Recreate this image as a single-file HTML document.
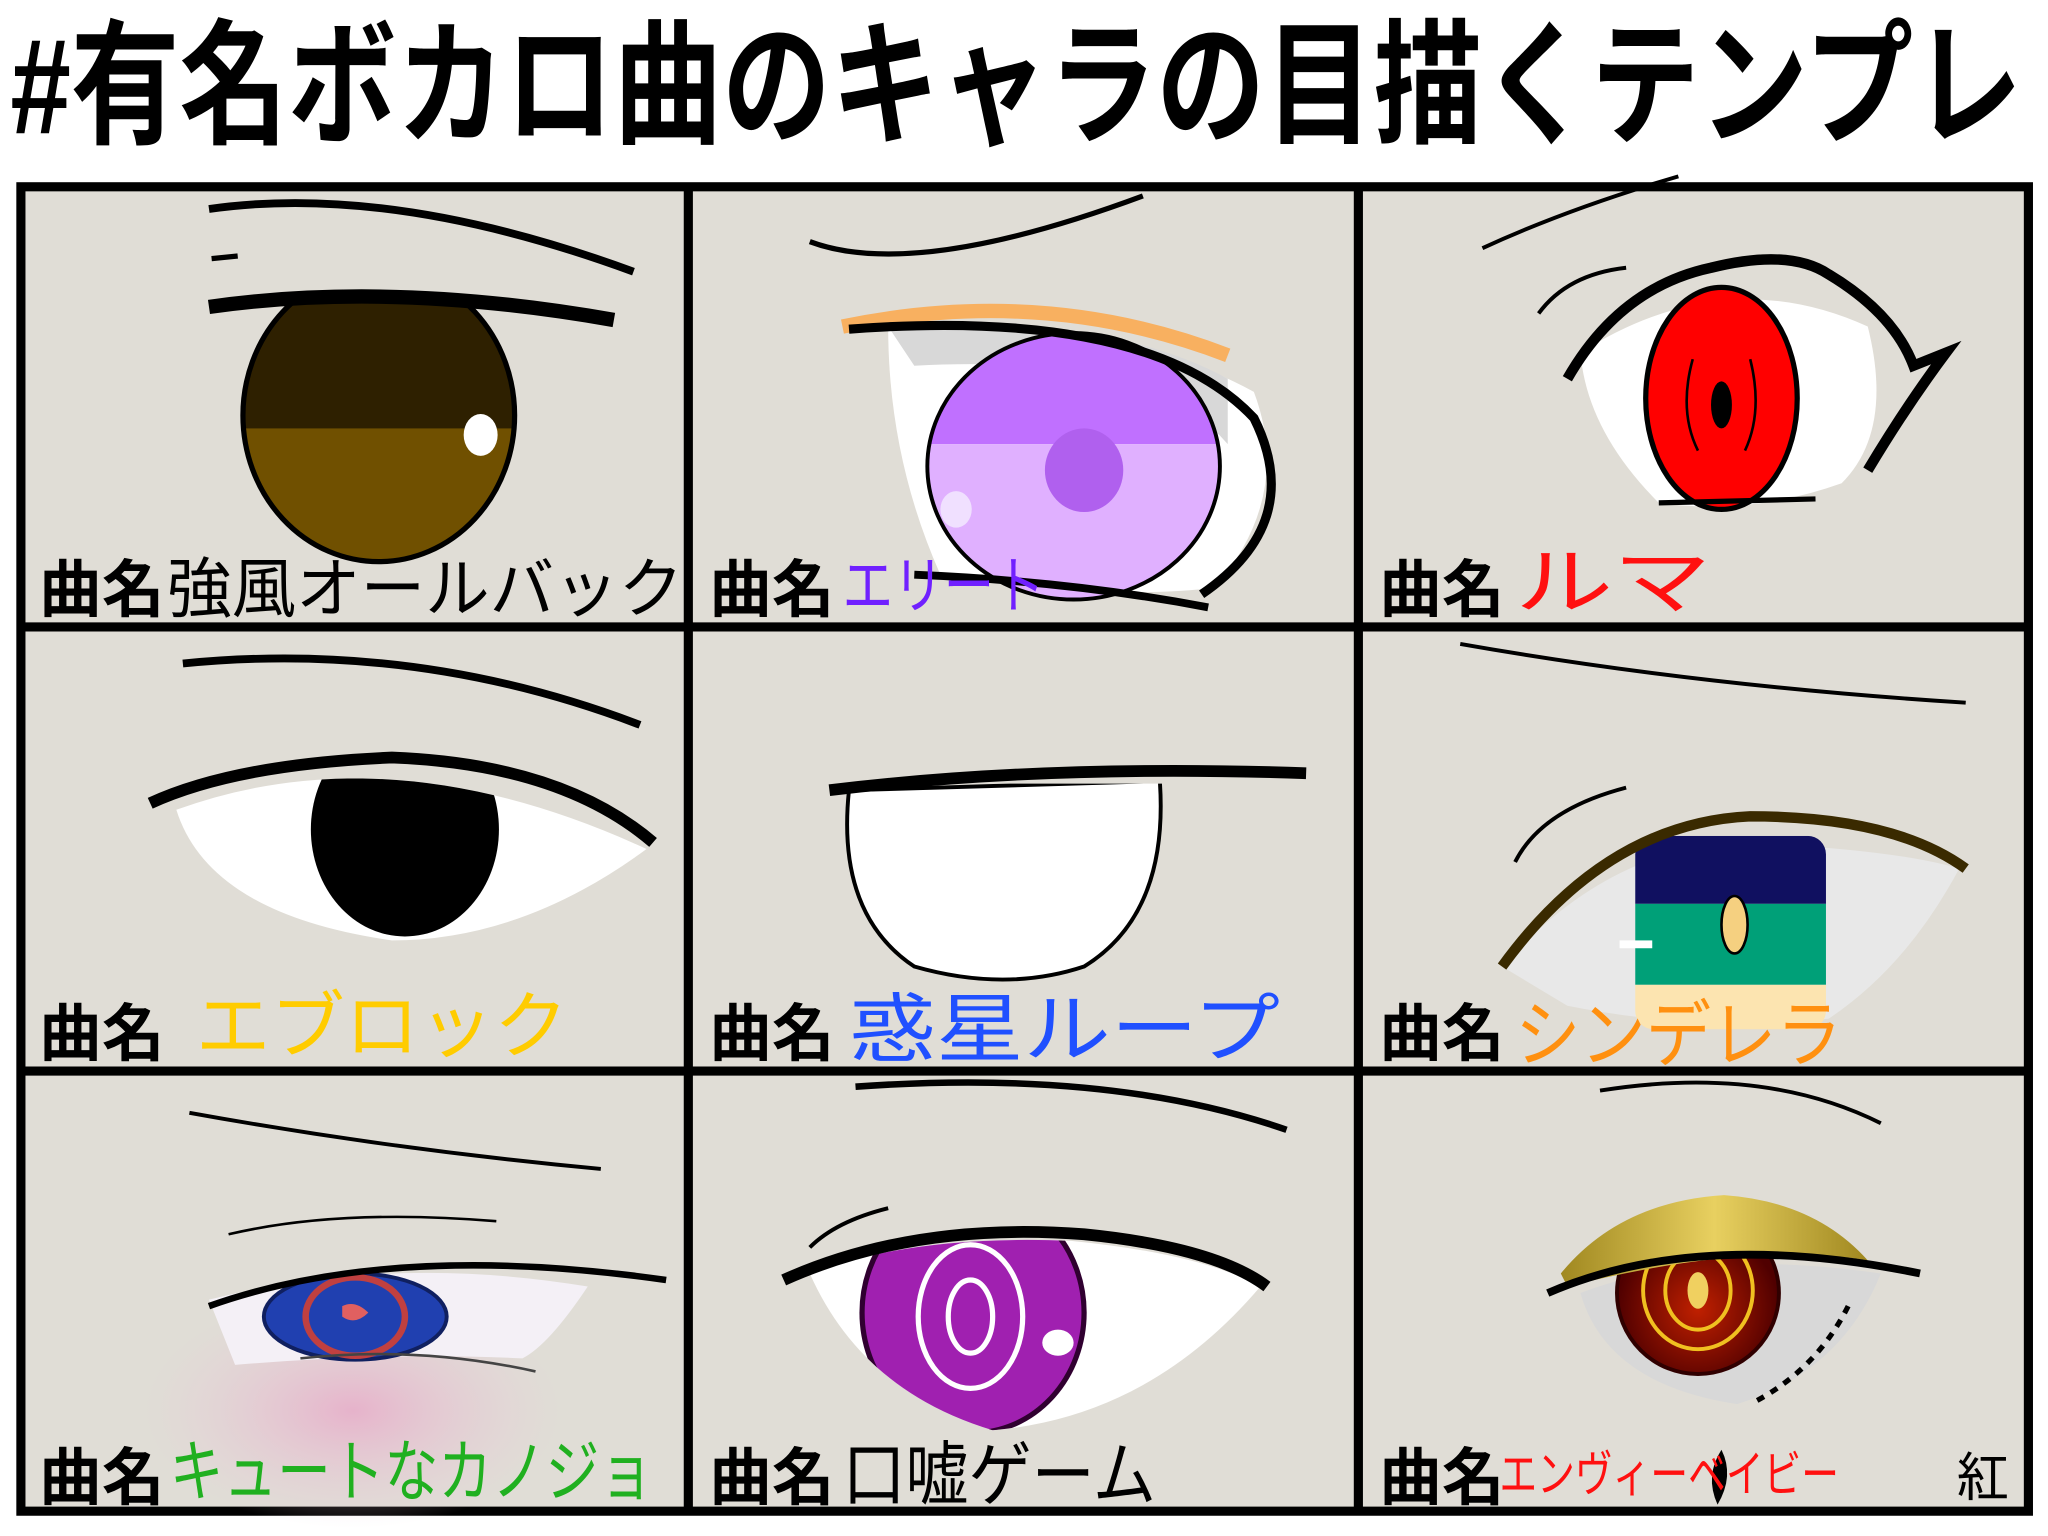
<!DOCTYPE html>
<html><head><meta charset="utf-8"><style>
html,body{margin:0;padding:0;background:#fff;width:2048px;height:1536px;overflow:hidden}
svg{display:block}
text{font-family:"Liberation Sans","Noto Sans CJK JP",sans-serif}
</style></head><body>
<svg width="2048" height="1536" viewBox="0 0 1568 1176" preserveAspectRatio="none" xmlns="http://www.w3.org/2000/svg">
<defs>
<radialGradient id="blush" cx="0.5" cy="0.5" r="0.5"><stop offset="0" stop-color="#e8a8c8" stop-opacity="0.8"/><stop offset="1" stop-color="#e8c8d8" stop-opacity="0"/></radialGradient>
<radialGradient id="redi" cx="0.5" cy="0.6" r="0.5"><stop offset="0" stop-color="#c02000"/><stop offset="1" stop-color="#500000"/></radialGradient>
<linearGradient id="gold" x1="0" y1="0" x2="1" y2="0"><stop offset="0" stop-color="#a08820"/><stop offset="0.5" stop-color="#e8d060"/><stop offset="1" stop-color="#a08820"/></linearGradient>
<clipPath id="c4"><path d="M135 620 Q300 560 495 650 Q400 720 300 720 Q160 700 135 620Z"/></clipPath>
<clipPath id="c1"><rect x="150" y="232" width="300" height="220"/></clipPath>
<clipPath id="c1e"><ellipse cx="290" cy="318" rx="104" ry="112"/></clipPath>
<clipPath id="c2"><ellipse cx="822" cy="357" rx="112" ry="102"/></clipPath>
<clipPath id="c6"><rect x="1252" y="640" width="146" height="148" rx="14"/></clipPath>
<clipPath id="c8"><path d="M620 975 Q700 945 820 950 Q920 960 965 985 Q880 1085 760 1095 Q660 1065 620 975Z"/></clipPath>
<clipPath id="c5"><rect x="600" y="600" width="400" height="200"/></clipPath>
</defs>
<rect width="1568" height="1176" fill="#fff"/>
<text x="8" y="102" font-size="104" font-weight="bold" fill="#000" textLength="1540" lengthAdjust="spacingAndGlyphs">#有名ボカロ曲のキャラの目描くテンプレ</text>
<rect x="16" y="143" width="1537" height="1014" fill="#e0ddd6" stroke="#000" stroke-width="7"/>
<line x1="527" y1="143" x2="527" y2="1157" stroke="#000" stroke-width="7"/>
<line x1="1040" y1="143" x2="1040" y2="1157" stroke="#000" stroke-width="7"/>
<line x1="16" y1="480" x2="1553" y2="480" stroke="#000" stroke-width="7"/>
<line x1="16" y1="820" x2="1553" y2="820" stroke="#000" stroke-width="7"/>

<!-- cell1 -->
<path d="M160 160 Q300 140 485 208" stroke="#000" stroke-width="6" fill="none"/>
<path d="M162 198 L182 196" stroke="#000" stroke-width="4"/>
<g clip-path="url(#c1)">
<g clip-path="url(#c1e)">
<rect x="180" y="200" width="220" height="240" fill="#705000"/>
<rect x="180" y="200" width="220" height="128" fill="#2e2000"/>
</g>
<ellipse cx="290" cy="318" rx="104" ry="112" fill="none" stroke="#000" stroke-width="4"/>
</g>
<path d="M160 235 Q300 215 470 245" stroke="#000" stroke-width="11" fill="none"/>
<ellipse cx="368" cy="333" rx="13" ry="16" fill="#fff"/>
<!-- cell2 -->
<path d="M620 185 Q700 215 875 150" stroke="#000" stroke-width="4" fill="none"/>
<path d="M680 250 Q850 240 960 300 Q990 380 930 450 Q850 460 720 440 Q680 350 680 250Z" fill="#fff"/>
<path d="M680 250 Q850 240 940 290 L940 340 Q880 270 700 280Z" fill="#d8d8d8"/>
<g clip-path="url(#c2)"><rect x="700" y="250" width="240" height="90" fill="#c070ff"/><rect x="700" y="340" width="240" height="130" fill="#e0b0ff"/></g>
<ellipse cx="822" cy="357" rx="112" ry="102" fill="none" stroke="#000" stroke-width="3"/>
<ellipse cx="830" cy="360" rx="30" ry="32" fill="#b060ee"/>
<ellipse cx="732" cy="390" rx="12" ry="14" fill="#f0e0ff"/>
<path d="M645 250 Q800 218 940 272" stroke="#f8b060" stroke-width="11" fill="none"/>
<path d="M650 252 Q880 235 960 320 Q1000 400 920 455" stroke="#000" stroke-width="7" fill="none"/>
<path d="M700 440 Q820 445 925 465" stroke="#000" stroke-width="6" fill="none"/>
<!-- cell3 -->
<path d="M1135 190 Q1200 160 1285 135" stroke="#000" stroke-width="3" fill="none"/>
<path d="M1178 240 Q1200 210 1245 205" stroke="#000" stroke-width="3" fill="none"/>
<path d="M1210 270 Q1320 200 1430 250 Q1450 330 1410 370 Q1340 395 1270 385 Q1215 330 1210 270Z" fill="#fff"/>
<ellipse cx="1318" cy="305" rx="58" ry="85" fill="#ff0000" stroke="#000" stroke-width="4"/>
<path d="M1296 275 Q1285 315 1300 345 M1340 275 Q1350 315 1336 345" stroke="#000" stroke-width="2" fill="none"/>
<ellipse cx="1318" cy="310" rx="8" ry="18" fill="#000"/>
<path d="M1200 290 Q1240 220 1310 205 Q1370 190 1400 210 Q1450 240 1465 280 L1490 270 Q1460 310 1430 360" stroke="#000" stroke-width="8" fill="none"/>
<path d="M1270 385 L1390 382" stroke="#000" stroke-width="4"/>
<!-- cell4 -->
<path d="M140 508 Q320 490 490 555" stroke="#000" stroke-width="6" fill="none"/>
<path d="M135 620 Q300 560 495 650 Q400 720 300 720 Q160 700 135 620Z" fill="#fff"/>
<g clip-path="url(#c4)"><ellipse cx="310" cy="635" rx="72" ry="82" fill="#000"/></g>
<path d="M115 615 Q180 585 300 580 Q430 585 500 645" stroke="#000" stroke-width="9" fill="none"/>
<!-- cell5 -->
<g clip-path="url(#c5)"><path d="M650 605 L888 598 Q895 700 830 740 Q770 760 700 740 Q640 700 650 605Z" fill="#fff" stroke="#000" stroke-width="3"/></g>
<path d="M635 605 Q800 585 1000 592" stroke="#000" stroke-width="9" fill="none"/>
<!-- cell6 -->
<path d="M1118 493 Q1300 525 1505 538" stroke="#000" stroke-width="3" fill="none"/>
<path d="M1160 660 Q1180 620 1245 603" stroke="#000" stroke-width="3" fill="none"/>
<path d="M1150 740 Q1230 650 1330 645 Q1450 650 1500 665 Q1460 740 1400 780 Q1300 790 1200 770 Z" fill="#e8e8e8"/>
<g clip-path="url(#c6)"><rect x="1250" y="640" width="150" height="52" fill="#101060"/><rect x="1250" y="692" width="150" height="62" fill="#00a078"/><rect x="1250" y="754" width="150" height="40" fill="#fce4b0"/></g>
<ellipse cx="1328" cy="708" rx="10" ry="22" fill="#f5d080" stroke="#000" stroke-width="2"/>
<path d="M1150 740 Q1230 630 1340 625 Q1450 625 1505 665" stroke="#3a2a00" stroke-width="8" fill="none"/>
<rect x="1240" y="720" width="25" height="6" fill="#fff"/>
<!-- cell7 -->
<path d="M145 852 Q300 880 460 895" stroke="#000" stroke-width="3" fill="none"/>
<ellipse cx="270" cy="1080" rx="160" ry="90" fill="url(#blush)"/>
<path d="M160 995 Q300 960 450 985 Q420 1030 400 1040 Q300 1035 180 1045Z" fill="#f4f0f6"/>
<ellipse cx="272" cy="1008" rx="70" ry="33" fill="#2040b0" stroke="#102060" stroke-width="3"/>
<ellipse cx="272" cy="1008" rx="38" ry="30" fill="none" stroke="#c04040" stroke-width="5"/>
<path d="M262 1000 Q272 995 282 1005 Q272 1015 262 1008Z" fill="#e06060"/>
<path d="M160 1000 Q300 950 510 980" stroke="#000" stroke-width="5" fill="none"/>
<path d="M175 945 Q260 925 380 935" stroke="#000" stroke-width="2" fill="none"/>
<path d="M230 1040 Q320 1030 410 1050" stroke="#444" stroke-width="2" fill="none"/>
<!-- cell8 -->
<path d="M655 832 Q850 818 985 865" stroke="#000" stroke-width="5" fill="none"/>
<path d="M620 975 Q700 945 820 950 Q920 960 965 985 Q880 1085 760 1095 Q660 1065 620 975Z" fill="#fff"/>
<g clip-path="url(#c8)">
<ellipse cx="745" cy="1005" rx="85" ry="92" fill="#a020b0" stroke="#300030" stroke-width="4"/>
<ellipse cx="743" cy="1008" rx="40" ry="55" fill="none" stroke="#fff" stroke-width="4"/>
<ellipse cx="743" cy="1008" rx="17" ry="28" fill="none" stroke="#fff" stroke-width="4"/>
<ellipse cx="810" cy="1028" rx="12" ry="10" fill="#fff"/>
</g>
<path d="M600 980 Q700 935 830 945 Q930 955 970 985" stroke="#000" stroke-width="9" fill="none"/>
<path d="M620 955 Q640 935 680 925" stroke="#000" stroke-width="3" fill="none"/>
<!-- cell9 -->
<path d="M1225 835 Q1350 815 1440 860" stroke="#000" stroke-width="3" fill="none"/>
<path d="M1210 990 Q1300 955 1440 975 Q1410 1050 1330 1075 Q1230 1060 1210 990Z" fill="#d8d8d8"/>
<circle cx="1300" cy="990" r="62" fill="url(#redi)" stroke="#300000" stroke-width="3"/>
<ellipse cx="1300" cy="988" rx="42" ry="45" fill="none" stroke="#f0c020" stroke-width="3"/>
<ellipse cx="1300" cy="988" rx="25" ry="30" fill="none" stroke="#f0c020" stroke-width="3"/>
<ellipse cx="1300" cy="988" rx="8" ry="14" fill="#f0d060"/>
<path d="M1195 975 Q1240 920 1320 915 Q1390 920 1430 965 Q1340 950 1200 985Z" fill="url(#gold)"/>
<path d="M1185 990 Q1300 940 1470 975" stroke="#000" stroke-width="6" fill="none"/>
<path d="M1415 1000 Q1390 1050 1340 1075" stroke="#000" stroke-width="4" fill="none" stroke-dasharray="6 6"/>
<path d="M1318 1110 Q1305 1130 1315 1152 Q1328 1130 1318 1110Z" fill="#000"/>

<!-- labels -->
<g font-size="48" font-weight="bold" fill="#000">
<text x="30" y="468">曲名</text><text x="543" y="468">曲名</text><text x="1056" y="468">曲名</text>
<text x="30" y="808">曲名</text><text x="543" y="808">曲名</text><text x="1056" y="808">曲名</text>
<text x="30" y="1148">曲名</text><text x="543" y="1148">曲名</text><text x="1056" y="1148">曲名</text>
</g>
<text x="128" y="468" font-size="50" fill="#000" textLength="395" lengthAdjust="spacingAndGlyphs">強風オールバック</text>
<text x="645" y="465" font-size="48" fill="#7020ff" textLength="155" lengthAdjust="spacingAndGlyphs">エリート</text>
<text x="1160" y="465" font-size="56" fill="#ff1010" textLength="150" lengthAdjust="spacingAndGlyphs">ルマ</text>
<text x="150" y="805" font-size="56" fill="#ffcc00" textLength="285" lengthAdjust="spacingAndGlyphs">エブロック</text>
<text x="650" y="808" font-size="58" fill="#2050ff" textLength="330" lengthAdjust="spacingAndGlyphs">惑星ループ</text>
<text x="1160" y="812" font-size="56" fill="#ff9010" textLength="250" lengthAdjust="spacingAndGlyphs">シンデレラ</text>
<text x="130" y="1145" font-size="52" fill="#20b020" textLength="370" lengthAdjust="spacingAndGlyphs">キュートなカノジョ</text>
<text x="645" y="1148" font-size="54" fill="#000" textLength="240" lengthAdjust="spacingAndGlyphs">口嘘ゲーム</text>
<text x="1148" y="1142" font-size="38" fill="#ff1010" textLength="260" lengthAdjust="spacingAndGlyphs">エンヴィーベイビー</text>
<text x="1498" y="1145" font-size="40" fill="#000">紅</text>
</svg>
</body></html>
